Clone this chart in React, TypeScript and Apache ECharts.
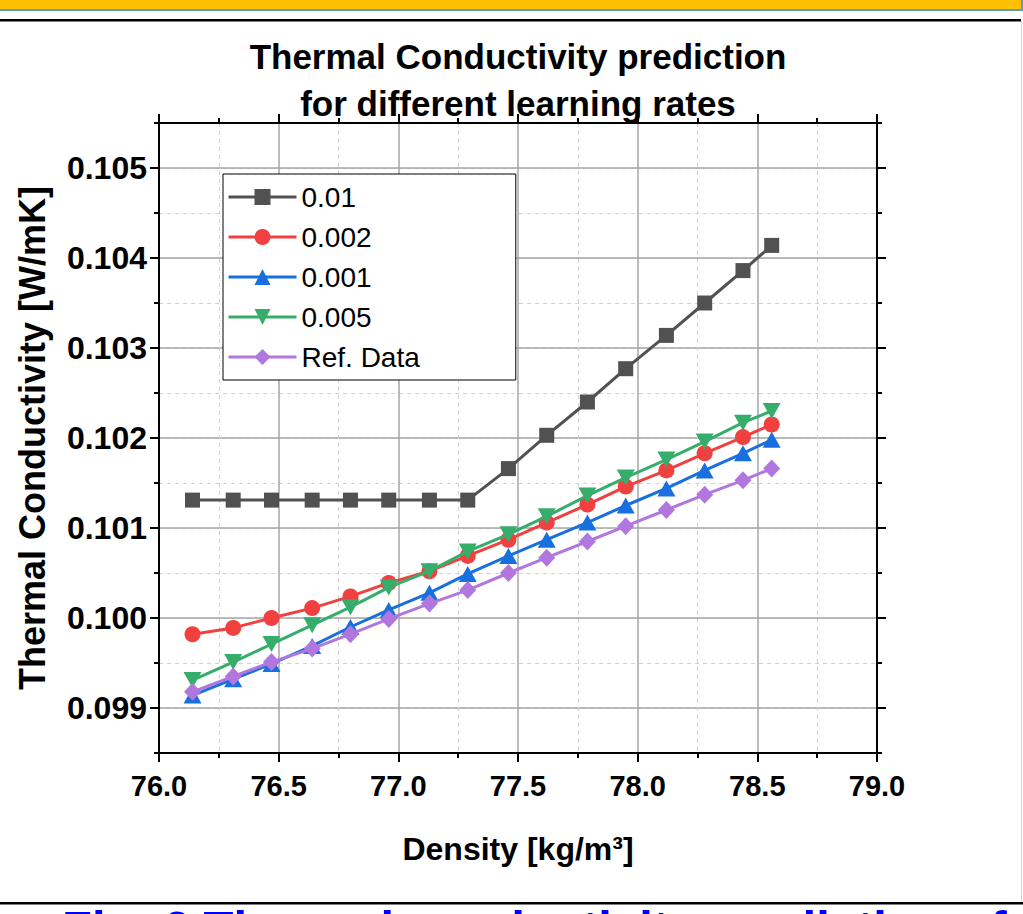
import React, { useEffect, useRef } from 'react';
import * as echarts from 'echarts';

// Density values [kg/m3] shared by every series
const density = [76.14, 76.31, 76.47, 76.64, 76.8, 76.96, 77.13, 77.29, 77.46, 77.62, 77.79, 77.95, 78.12, 78.28, 78.44, 78.56];

// Predicted thermal conductivity [W/mK] per learning rate
const lr0_01 = [0.10131, 0.10131, 0.10131, 0.10131, 0.10131, 0.10131, 0.10131, 0.10131, 0.10166, 0.10203, 0.1024, 0.10277, 0.10314, 0.1035, 0.10386, 0.10414];
const lr0_002 = [0.09982, 0.09989, 0.1, 0.10011, 0.10024, 0.10039, 0.10052, 0.10069, 0.10087, 0.10106, 0.10126, 0.10146, 0.10164, 0.10183, 0.10201, 0.10215];
const lr0_001 = [0.09914, 0.09932, 0.09949, 0.09969, 0.0999, 0.10009, 0.10028, 0.10049, 0.10069, 0.10087, 0.10106, 0.10125, 0.10144, 0.10164, 0.10183, 0.10198];
const lr0_005 = [0.09931, 0.09951, 0.09971, 0.09992, 0.10012, 0.10034, 0.10052, 0.10074, 0.10093, 0.10113, 0.10136, 0.10156, 0.10176, 0.10196, 0.10217, 0.1023];
const refData = [0.09918, 0.09935, 0.09951, 0.09966, 0.09982, 0.09999, 0.10016, 0.10031, 0.1005, 0.10067, 0.10085, 0.10102, 0.1012, 0.10137, 0.10153, 0.10166];

const seriesNames = ['0.01', '0.002', '0.001', '0.005', 'Ref. Data'];
const seriesValues = [lr0_01, lr0_002, lr0_001, lr0_005, refData];
const seriesColors = ['#515151', '#F14040', '#1A6FDF', '#37AD6B', '#B177DE'];
const seriesSymbols = ['rect', 'circle', 'triangle', 'path://M0,0L2,0L1,1.75Z', 'diamond'];
const seriesSymbolSizes: any[] = [15, 16, [18, 16], [18, 16], [17, 18]];

// Axis ranges
const xRange = [76, 79];
const xMajor = 0.5;
const yOuter = [0.0985, 0.1055];
const yMinor = 0.0005;
const yInner = [0.099, 0.105];
const yMajor = 0.001;

const titleLines = ['Thermal Conductivity prediction', 'for different learning rates'];
const captionText = 'Fig. 6 Thermal conductivity prediction of';

const FONT = 'Arial, "Liberation Sans", sans-serif';
const GRID_MAJOR = '#a6a6a6';
const GRID_MINOR = '#d2d2d2';

export default function App() {
  const ref = useRef<HTMLDivElement>(null);

  useEffect(() => {
    if (!ref.current) return;
    const chart = echarts.init(ref.current, undefined, { renderer: 'svg' });

    const pairs = (ys: number[]) => density.map((x, i) => [x, ys[i]]);

    const series = seriesNames.map((name, i) => ({
      name,
      type: 'line',
      xAxisIndex: 0,
      yAxisIndex: 0,
      data: pairs(seriesValues[i]),
      symbol: seriesSymbols[i],
      symbolSize: seriesSymbolSizes[i],
      showAllSymbol: true,
      lineStyle: { color: seriesColors[i], width: 3 },
      itemStyle: { color: seriesColors[i] },
      emphasis: { disabled: true },
      z: 3 + i,
    }));

    const tickStyle = { color: '#000', width: 2 };

    const option: any = {
      animation: false,
      backgroundColor: '#ffffff',
      grid: [
        { left: 159, top: 123, width: 718, height: 630 },
        { left: 159, top: 168, width: 718, height: 540 },
      ],
      xAxis: [
        {
          gridIndex: 0,
          type: 'value',
          position: 'bottom',
          min: xRange[0],
          max: xRange[1],
          interval: xMajor,
          axisLine: { show: true, onZero: false, lineStyle: { color: '#000', width: 2 } },
          axisTick: { show: true, inside: false, length: 9, lineStyle: tickStyle },
          minorTick: { show: true, splitNumber: 2, length: 5, lineStyle: tickStyle },
          axisLabel: {
            margin: 18,
            fontSize: 29,
            fontWeight: 'bold',
            fontFamily: FONT,
            color: '#000',
            formatter: (v: number) => v.toFixed(1),
          },
          splitLine: { show: true, lineStyle: { color: GRID_MAJOR, width: 1.5 } },
          minorSplitLine: { show: true, lineStyle: { color: GRID_MINOR, width: 1, type: [4, 4] } },
          name: 'Density [kg/m³]',
          nameLocation: 'middle',
          nameGap: 80,
          nameTextStyle: { fontSize: 32, fontWeight: 'bold', fontFamily: FONT, color: '#000' },
        },
        {
          gridIndex: 0,
          type: 'value',
          position: 'top',
          min: xRange[0],
          max: xRange[1],
          interval: xMajor,
          axisLine: { show: true, onZero: false, lineStyle: { color: '#000', width: 2 } },
          axisTick: { show: true, inside: false, length: 9, lineStyle: tickStyle },
          minorTick: { show: true, splitNumber: 2, length: 5, lineStyle: tickStyle },
          axisLabel: { show: false },
          splitLine: { show: false },
        },
        { gridIndex: 1, type: 'value', min: xRange[0], max: xRange[1], show: false },
      ],
      yAxis: [
        {
          gridIndex: 0,
          type: 'value',
          position: 'left',
          min: yOuter[0],
          max: yOuter[1],
          interval: yMinor,
          axisLine: { show: true, onZero: false, lineStyle: { color: '#000', width: 2 } },
          axisTick: { show: true, inside: false, length: 5, lineStyle: tickStyle },
          axisLabel: { show: false },
          splitLine: { show: true, lineStyle: { color: GRID_MINOR, width: 1, type: [4, 4] } },
          name: 'Thermal Conductivity [W/mK]',
          nameLocation: 'middle',
          nameGap: 109,
          nameTextStyle: { fontSize: 36, fontWeight: 'bold', fontFamily: FONT, color: '#000' },
        },
        {
          gridIndex: 0,
          type: 'value',
          position: 'right',
          min: yOuter[0],
          max: yOuter[1],
          interval: yMinor,
          axisLine: { show: true, onZero: false, lineStyle: { color: '#000', width: 2 } },
          axisTick: { show: true, inside: false, length: 5, lineStyle: tickStyle },
          axisLabel: { show: false },
          splitLine: { show: false },
        },
        {
          gridIndex: 1,
          type: 'value',
          position: 'left',
          min: yInner[0],
          max: yInner[1],
          interval: yMajor,
          axisLine: { show: false },
          axisTick: { show: true, inside: false, length: 9, lineStyle: tickStyle },
          axisLabel: {
            margin: 12,
            fontSize: 32,
            fontWeight: 'bold',
            fontFamily: FONT,
            color: '#000',
            formatter: (v: number) => v.toFixed(3),
          },
          splitLine: { show: true, lineStyle: { color: GRID_MAJOR, width: 1.5 } },
        },
        {
          gridIndex: 1,
          type: 'value',
          position: 'right',
          min: yInner[0],
          max: yInner[1],
          interval: yMajor,
          axisLine: { show: false },
          axisTick: { show: true, inside: false, length: 9, lineStyle: tickStyle },
          axisLabel: { show: false },
          splitLine: { show: false },
        },
      ],
      legend: {
        orient: 'vertical',
        left: 223,
        top: 174,
        padding: [8, 96, 8, 4],
        itemWidth: 68,
        itemHeight: 20,
        itemGap: 10,
        borderColor: '#000',
        borderWidth: 1,
        backgroundColor: '#ffffff',
        lineStyle: { width: 3 },
        textStyle: { fontSize: 28, fontFamily: FONT, color: '#000', lineHeight: 30 },
        data: seriesNames,
        selectedMode: false,
      },
      graphic: [
        { type: 'rect', shape: { x: 0, y: 0, width: 1023, height: 11 }, style: { fill: '#5B9BD5' }, silent: true },
        { type: 'rect', shape: { x: 0, y: 0, width: 1021, height: 9 }, style: { fill: '#FFC000' }, silent: true },
        { type: 'rect', shape: { x: 0, y: 19, width: 1021, height: 2.5 }, style: { fill: '#000' }, silent: true },
        { type: 'rect', shape: { x: 1021, y: 21, width: 1, height: 881 }, style: { fill: '#d4d4d4' }, silent: true },
        { type: 'rect', shape: { x: 0, y: 902, width: 1023, height: 2.5 }, style: { fill: '#000' }, silent: true },
        {
          type: 'text',
          x: 518,
          y: 56,
          style: { text: titleLines[0], textAlign: 'center', textVerticalAlign: 'middle', font: `bold 35px ${FONT}`, fill: '#000' },
          silent: true,
        },
        {
          type: 'text',
          x: 518,
          y: 103,
          style: { text: titleLines[1], textAlign: 'center', textVerticalAlign: 'middle', font: `bold 35px ${FONT}`, fill: '#000' },
          silent: true,
        },
        {
          type: 'text',
          x: 62,
          y: 903,
          style: { text: captionText, textAlign: 'left', textVerticalAlign: 'top', font: `bold 49px ${FONT}`, fill: '#0000FF' },
          silent: true,
        },
      ],
      series,
    };

    chart.setOption(option);
    return () => chart.dispose();
  }, []);

  return (
    <div
      ref={ref}
      style={{ position: 'absolute', left: 0, top: 0, width: 1023, height: 914, background: '#fff', overflow: 'hidden' }}
    />
  );
}
